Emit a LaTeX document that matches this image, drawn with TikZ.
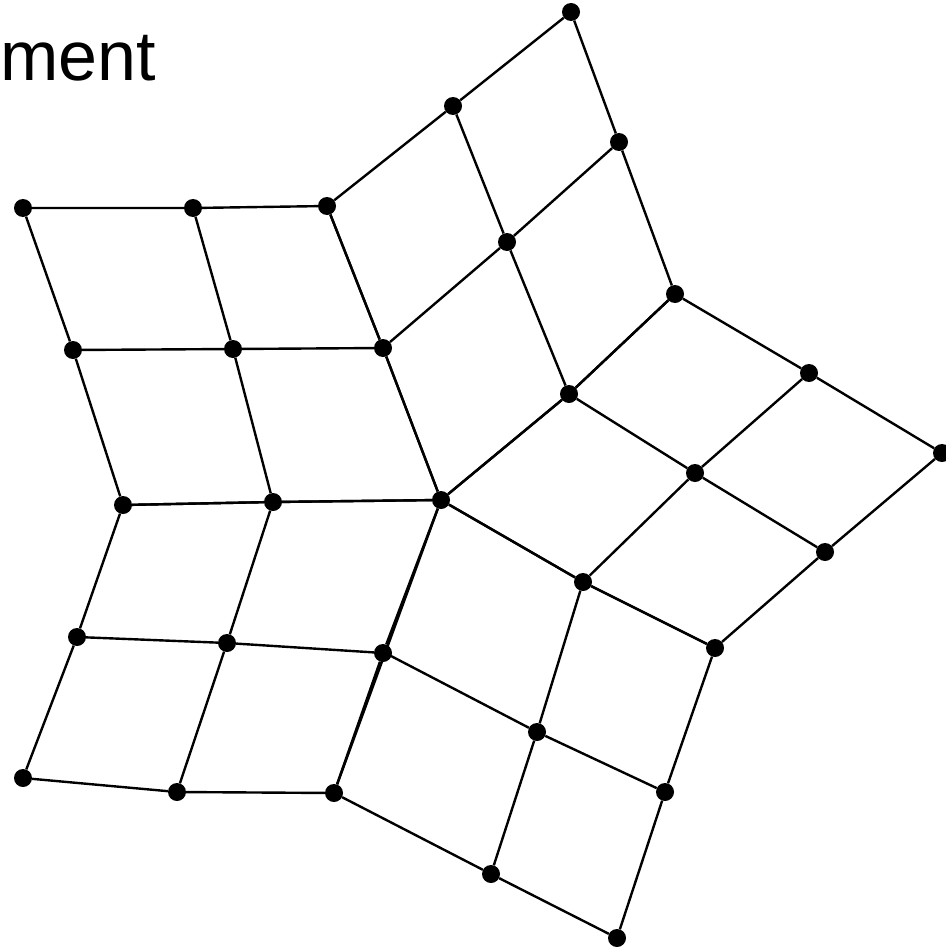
\documentclass[tikz,border=0pt]{standalone}
\usepackage{fontspec}
\setmainfont{Liberation Sans}
\usetikzlibrary{calc}

\begin{document}
\begin{tikzpicture}[x=1pt,y=-1pt]
        \tikzset{dot/.style={circle, fill=black, inner sep=0pt, minimum size=18pt},
                 edge/.style={line width=2.4pt}}
        \useasboundingbox (0,0) rectangle (945,950);

        \node[anchor=base east, inner sep=0pt, font=\fontsize{70}{84}\selectfont] (title) at (156,81) {ment};

        % upper-left arm
        \node[dot] (p1) at (23,208) {};
        \node[dot] (p2) at (193,208) {};
        \node[dot] (p3) at (327,206) {};
        \node[dot] (p4) at (73,350) {};
        \node[dot] (p5) at (233,349) {};
        \node[dot] (p6) at (383,348) {};
        \node[dot] (p7) at (123,505) {};
        \node[dot] (p8) at (273,502) {};
        \node[dot] (c) at (441,500) {};
        % lower-left arm
        \node[dot] (q1) at (77,637) {};
        \node[dot] (q2) at (227,643) {};
        \node[dot] (q3) at (383,653) {};
        \node[dot] (q4) at (23,778) {};
        \node[dot] (q5) at (177,792) {};
        \node[dot] (q6) at (334,793) {};
        \coordinate (q3b) at ($(c)!0.522!(q6)$);
        % bottom arm
        \node[dot] (r1) at (583,582) {};
        \node[dot] (r2) at (715,648) {};
        \node[dot] (r3) at (537,732) {};
        \node[dot] (r4) at (665,792) {};
        \node[dot] (r5) at (491,874) {};
        \node[dot] (r6) at (617,938) {};
        % right arm
        \node[dot] (s1) at (569,394) {};
        \node[dot] (s2) at (695,473) {};
        \node[dot] (s3) at (825,552) {};
        \node[dot] (s4) at (675,294) {};
        \node[dot] (s5) at (809,373) {};
        \node[dot] (s6) at (942,453) {};
        % top arm
        \node[dot] (t1) at (507,242) {};
        \node[dot] (t2) at (619,142) {};
        \node[dot] (t3) at (453,106) {};
        \node[dot] (t4) at (571,12) {};

        % grids, one per arm
        \draw[edge] (p1) -- (p2) -- (p3) (p4) -- (p5) -- (p6) (p7) -- (p8) -- (c)
                    (p1) -- (p4) -- (p7) (p2) -- (p5) -- (p8) (p3) -- (p6) -- (c);
        \draw[edge] (p7) -- (p8) -- (c) (q1) -- (q2) -- (q3) (q4) -- (q5) -- (q6)
                    (p7) -- (q1) -- (q4) (p8) -- (q2) -- (q5) (c) -- (q3) -- (q6);
        \draw[edge] (c) -- (r1) -- (r2) (q3b) -- (r3) -- (r4) (q6) -- (r5) -- (r6)
                    (c) -- (q3b) -- (q6) (r1) -- (r3) -- (r5) (r2) -- (r4) -- (r6);
        \draw[edge] (c) -- (r1) -- (r2) (s1) -- (s2) -- (s3) (s4) -- (s5) -- (s6)
                    (c) -- (s1) -- (s4) (r1) -- (s2) -- (s5) (r2) -- (s3) -- (s6);
        \draw[edge] (p3) -- (t3) -- (t4) (p6) -- (t1) -- (t2) (c) -- (s1) -- (s4)
                    (p3) -- (p6) -- (c) (t3) -- (t1) -- (s1) (t4) -- (t2) -- (s4);
\end{tikzpicture}
\end{document}
